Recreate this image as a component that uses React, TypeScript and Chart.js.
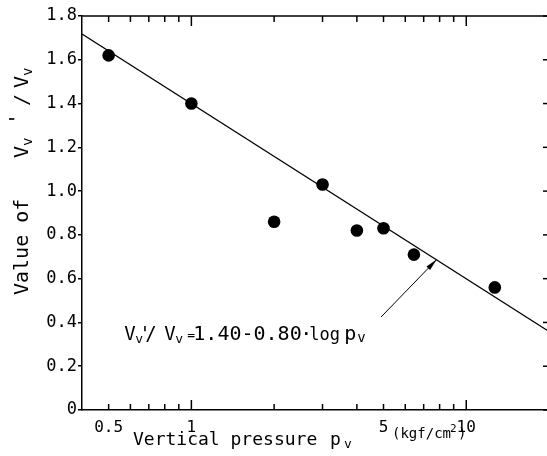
import React, { useEffect, useRef } from "react";
import { Chart, registerables } from "chart.js";

Chart.register(...registerables);

// ---- data ----
const pressureX = [0.5, 1, 2, 3, 4, 5, 6.45, 12.7];
const ratioY = [1.62, 1.4, 0.86, 1.03, 0.82, 0.83, 0.71, 0.56];
const fitX = [0.4, 20];
const fitY = [1.718, 0.359];
const xTickValues = [0.4, 0.5, 0.6, 0.7, 0.8, 0.9, 1, 2, 3, 4, 5, 6, 7, 8, 9, 10, 20];
const xLabelValues = [0.5, 1, 5, 10];
const xMajorValues = [1, 10];
const arrowFrom = { x: 4.9, y: 0.425 };
const arrowTo = { x: 7.8, y: 0.687 };
const noteAt = { x: 0.575, y: 0.32 };

const FONT = '"DejaVu Sans Mono"';

type Run = { t: string; s: number; dx: number; dy?: number };

// draw text pieces at offsets from an anchor (baseline)
function drawRuns(ctx: CanvasRenderingContext2D, x: number, y: number, runs: Run[]) {
  for (const r of runs) {
    ctx.font = `${r.s}px ${FONT}`;
    ctx.fillText(r.t, x + r.dx, y + (r.dy || 0));
  }
}

const decorPlugin = {
  id: "decor",
  afterDraw(chart: any) {
    const { ctx, chartArea: a, scales } = chart;
    const x = scales.x;
    const y = scales.y;
    ctx.save();
    ctx.strokeStyle = "#000";
    ctx.fillStyle = "#000";
    ctx.lineWidth = 1.5;
    const line = (x1: number, y1: number, x2: number, y2: number) => {
      ctx.beginPath();
      ctx.moveTo(x1, y1);
      ctx.lineTo(x2, y2);
      ctx.stroke();
    };
    // top & right frame
    line(a.left, a.top, a.right, a.top);
    line(a.right, a.top, a.right, a.bottom);
    // x ticks (inward, bottom and top)
    for (const v of xTickValues) {
      const px = x.getPixelForValue(v);
      if (px <= a.left + 1 || px >= a.right - 1) continue;
      const len = xMajorValues.includes(v) ? 10 : 6;
      line(px, a.bottom, px, a.bottom - len);
      line(px, a.top, px, a.top + len);
    }
    // y ticks on right (inward)
    for (const t of y.ticks) {
      const py = y.getPixelForValue(t.value);
      line(a.right, py, a.right - 6, py);
    }
    // arrow
    const fx = x.getPixelForValue(arrowFrom.x);
    const fy = y.getPixelForValue(arrowFrom.y);
    const tx = x.getPixelForValue(arrowTo.x);
    const ty = y.getPixelForValue(arrowTo.y);
    ctx.lineWidth = 1;
    line(fx, fy, tx, ty);
    const ang = Math.atan2(ty - fy, tx - fx);
    const L = 12, W = 2.5;
    ctx.beginPath();
    ctx.moveTo(tx, ty);
    ctx.lineTo(tx - L * Math.cos(ang) + W * Math.sin(ang), ty - L * Math.sin(ang) - W * Math.cos(ang));
    ctx.lineTo(tx - L * Math.cos(ang) - W * Math.sin(ang), ty - L * Math.sin(ang) + W * Math.cos(ang));
    ctx.closePath();
    ctx.fill();

    ctx.textBaseline = "alphabetic";
    ctx.textAlign = "left";
    // annotation text
    const nx = x.getPixelForValue(noteAt.x);
    const ny = y.getPixelForValue(noteAt.y);
    drawRuns(ctx, nx, ny, [
      { t: "V", s: 19, dx: -1 },
      { t: "v", s: 13, dx: 10, dy: 3 },
      { t: "'", s: 19, dx: 14 },
      { t: "/", s: 19, dx: 20 },
      { t: "V", s: 19, dx: 39 },
      { t: "v", s: 13, dx: 50, dy: 3 },
      { t: "=", s: 13, dx: 62, dy: -1 },
      { t: "1.40-0.80", s: 20, dx: 68 },
      { t: "·", s: 20, dx: 175 },
      { t: "log", s: 17, dx: 184 },
      { t: "p", s: 20, dx: 219 },
      { t: "v", s: 14, dx: 232, dy: 2 },
    ]);

    // x axis title
    drawRuns(ctx, 133, 445, [
      { t: "Vertical pressure", s: 18, dx: 0 },
      { t: "p", s: 18, dx: 197 },
      { t: "v", s: 13, dx: 211, dy: 3 },
    ]);
    drawRuns(ctx, 392, 438, [
      { t: "(kgf/cm", s: 14, dx: 0 },
      { t: "2", s: 11, dx: 58, dy: -6 },
      { t: ")", s: 14, dx: 66 },
    ]);

    // y axis title (rotated)
    ctx.save();
    ctx.translate(28, 295);
    ctx.rotate(-Math.PI / 2);
    drawRuns(ctx, 0, 0, [
      { t: "Value of", s: 20, dx: 0 },
      { t: "V", s: 20, dx: 137 },
      { t: "v", s: 14, dx: 149, dy: 4 },
      { t: "'", s: 20, dx: 170, dy: -5 },
      { t: "/", s: 20, dx: 189 },
      { t: "V", s: 20, dx: 207 },
      { t: "v", s: 14, dx: 219, dy: 4 },
    ]);
    ctx.restore();
    ctx.restore();
  },
};

export default function App() {
  const ref = useRef<HTMLCanvasElement>(null);
  useEffect(() => {
    if (!ref.current) return;
    Chart.defaults.font.family = FONT;
    Chart.defaults.color = "#000";
    const chart = new Chart(ref.current, {
      type: "scatter",
      data: {
        datasets: [
          {
            type: "line",
            data: fitX.map((v, i) => ({ x: v, y: fitY[i] })),
            borderColor: "#000",
            borderWidth: 1.3,
            pointRadius: 0,
            fill: false,
          } as any,
          {
            type: "scatter",
            data: pressureX.map((v, i) => ({ x: v, y: ratioY[i] })),
            backgroundColor: "#000",
            borderColor: "#000",
            borderWidth: 0,
            pointRadius: 6.3,
          },
        ],
      },
      options: {
        responsive: false,
        animation: false,
        devicePixelRatio: 1,
        layout: { padding: { top: 16, right: 3, left: 0, bottom: 0 } },
        plugins: { legend: { display: false }, tooltip: { enabled: false } },
        scales: {
          x: {
            type: "logarithmic",
            min: 0.4,
            max: 20,
            afterBuildTicks: (s: any) => {
              s.ticks = xTickValues.map((v) => ({ value: v }));
            },
            afterFit: (s: any) => {
              s.height = 46;
            },
            ticks: {
              autoSkip: false,
              maxRotation: 0,
              padding: 8,
              font: { size: 16, family: FONT },
              color: "#000",
              callback: (v: any) => (xLabelValues.includes(Number(v)) ? String(v) : ""),
            },
            grid: { display: false, drawTicks: false },
            border: { display: true, color: "#000", width: 1.5 },
          },
          y: {
            min: 0,
            max: 1.8,
            afterFit: (s: any) => {
              s.width = 82;
            },
            ticks: {
              stepSize: 0.2,
              padding: 1,
              font: { size: 17, family: FONT },
              color: "#000",
              callback: (v: any) => (Number(v) === 0 ? "0" : Number(v).toFixed(1)),
            },
            grid: { drawOnChartArea: false, drawTicks: true, tickLength: 4, color: "#000", lineWidth: 1.5 },
            border: { display: true, color: "#000", width: 1.5 },
          },
        },
      },
      plugins: [decorPlugin],
    });
    return () => chart.destroy();
  }, []);
  return (
    <div style={{ position: "fixed", left: 0, top: 0, width: 547, height: 456, overflow: "hidden", background: "#fff" }}>
      <canvas ref={ref} width={557} height={456} style={{ display: "block" }} />
    </div>
  );
}
